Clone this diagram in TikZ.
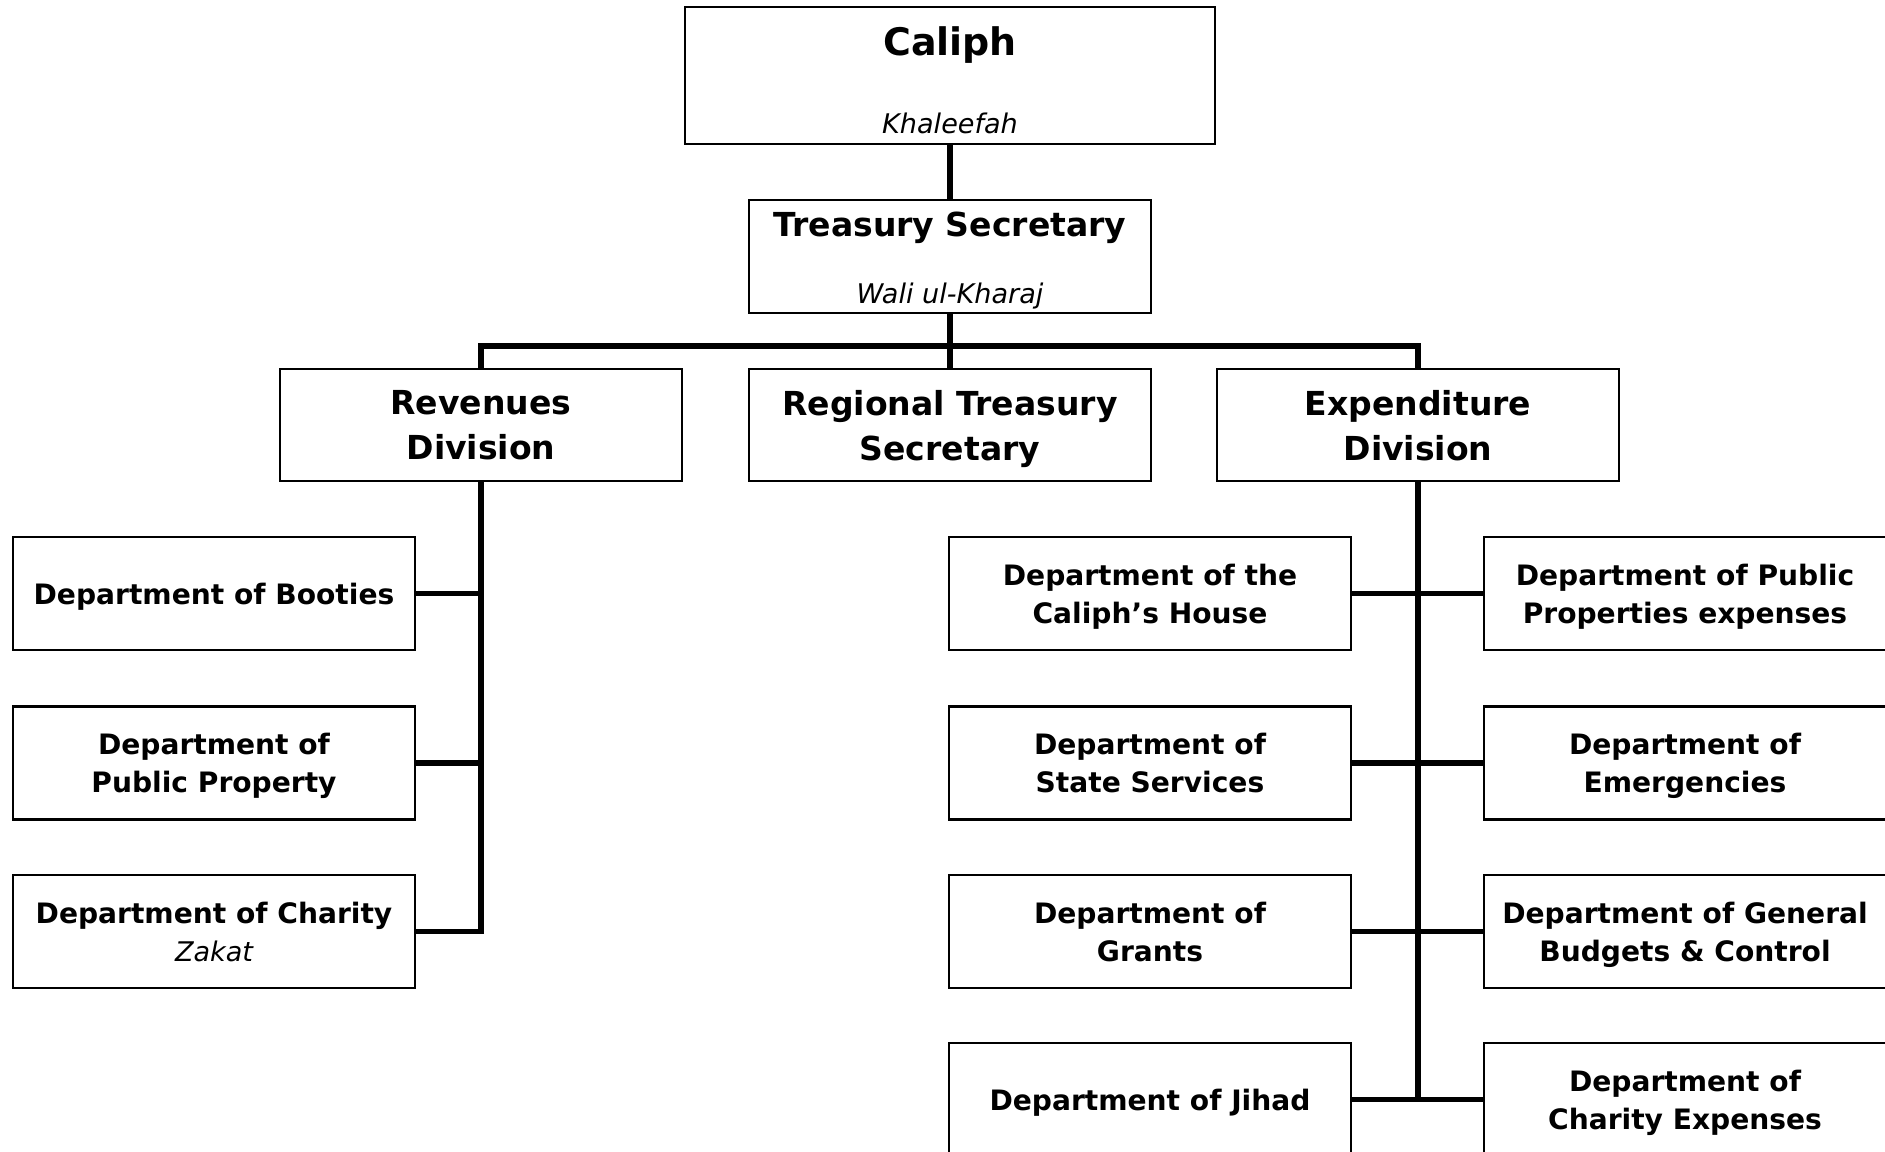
\documentclass[tikz,border=0pt]{standalone}
\usepackage{fontspec}
\setmainfont{DejaVu Sans}
\usetikzlibrary{positioning}
\tikzset{
  tbox/.style={draw, line width=0.6pt, inner sep=0pt, align=center, text depth=0pt, minimum width=4.02cm, minimum height=1.13cm},
  dbox/.style={tbox, font=\fontsize{8}{10.8}\selectfont\bfseries},
  lbox/.style={tbox, minimum height=1.12cm, font=\fontsize{9.4}{12.8}\selectfont\bfseries},
  link/.style={line width=1.5pt},
}
\newcommand{\subname}[1]{{\fontsize{7.7}{10.8}\selectfont\mdseries\itshape #1}}

\begin{document}
\begin{tikzpicture}
  \clip (0,0) rectangle (18.85,-11.52);

  %% ============================================
  %% TOP (caliph and treasury secretary)
  %% ============================================
  \node[tbox, minimum width=5.30cm, minimum height=1.37cm, font=\fontsize{10.8}{22.2}\selectfont\bfseries]
    (caliph) at (9.50,-0.755) {\rule{0pt}{10.6pt}Caliph\\\subname{Khaleefah}};
  \node[tbox, font=\fontsize{9.4}{19}\selectfont\bfseries]
    (treas) at (9.50,-2.565) {\rule{0pt}{7.6pt}Treasury Secretary\\\subname{Wali ul-Kharaj}};

  % Divisions
  \node[lbox] (rev) at (4.81,-4.25) {Revenues\\Division};
  \node[lbox] (reg) at (9.50,-4.25) {Regional Treasury\\Secretary};
  \node[lbox] (exp) at (14.18,-4.25) {Expenditure\\Division};

  %% ============================================
  %% REVENUES (left column)
  %% ============================================
  \node[dbox] (booties) at (2.14,-5.935) {Department of Booties};
  \node[dbox] (pubprop) at (2.14,-7.63) {Department of\\Public Property};
  \node[dbox] (charity) at (2.14,-9.315) {Department of Charity\\\subname{Zakat}};

  %% ============================================
  %% EXPENDITURE (middle and right columns)
  %% ============================================
  \node[dbox] (house) at (11.50,-5.935) {Department of the\\Caliph’s House};
  \node[dbox] (state) at (11.50,-7.63) {Department of\\State Services};
  \node[dbox] (grants) at (11.50,-9.315) {Department of\\Grants};
  \node[dbox] (jihad) at (11.50,-10.995) {Department of Jihad};

  \node[dbox] (pubexp) at (16.85,-5.935) {Department of Public\\Properties expenses};
  \node[dbox] (emerg) at (16.85,-7.63) {Department of\\Emergencies};
  \node[dbox] (budget) at (16.85,-9.315) {Department of General\\Budgets \& Control};
  \node[dbox] (chexp) at (16.85,-10.995) {Department of\\Charity Expenses};

  %% ============================================
  %% CONNECTORS
  %% ============================================
  \coordinate (bus) at (9.50,-3.46);
  \draw[link] (caliph.south) -- (treas.north);
  \draw[link] (treas.south) -- (reg.north);
  \draw[link] (rev.north) |- (bus) -| (exp.north);

  % Revenues trunk
  \draw[link] (rev.south) |- (charity.east);
  \draw[link] (booties.east) -- (booties.east -| rev.south);
  \draw[link] (pubprop.east) -- (pubprop.east -| rev.south);

  % Expenditure trunk
  \draw[link] (exp.south) -- (exp.south |- jihad.east);
  \draw[link] (house.east) -- (pubexp.west);
  \draw[link] (state.east) -- (emerg.west);
  \draw[link] (grants.east) -- (budget.west);
  \draw[link] (jihad.east) -- (chexp.west);
\end{tikzpicture}
\end{document}
